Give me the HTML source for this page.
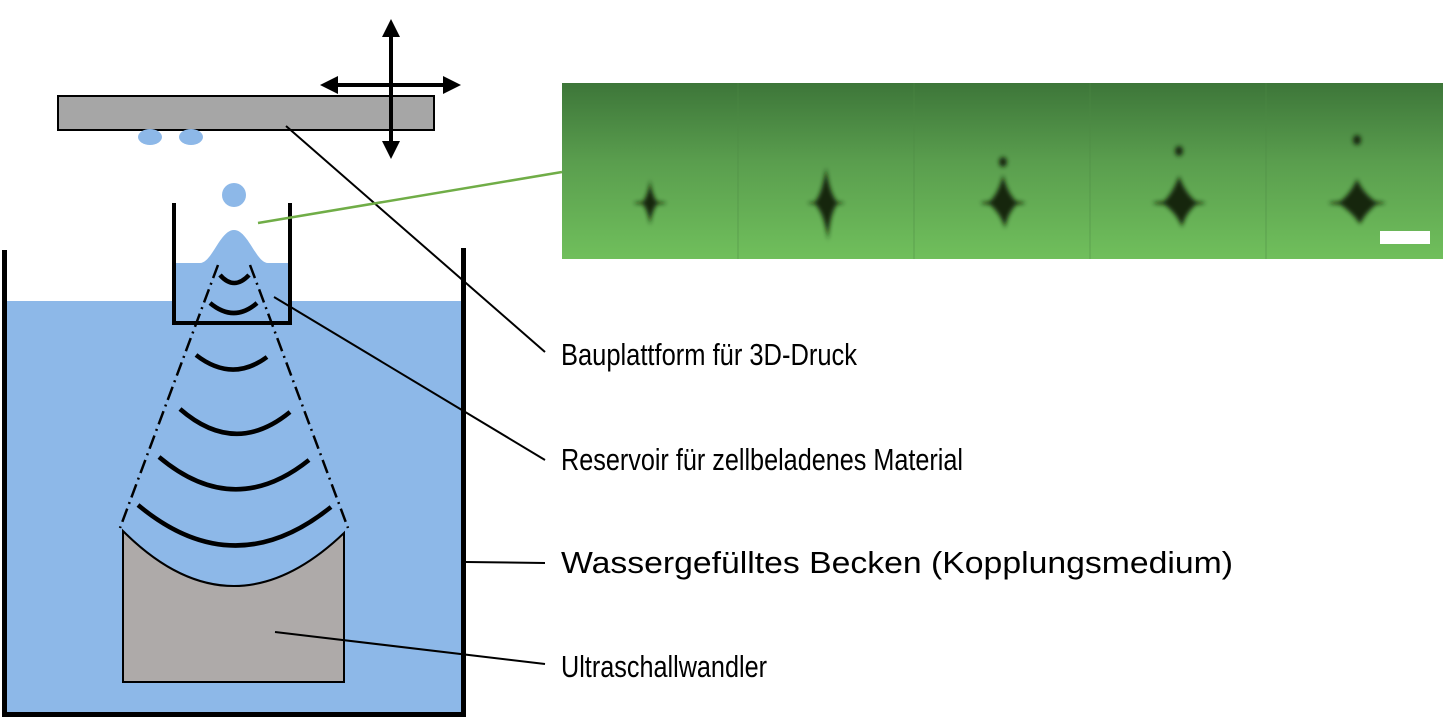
<!DOCTYPE html>
<html><head><meta charset="utf-8"><style>html,body{margin:0;padding:0;background:#fff;}svg{display:block}</style></head>
<body>
<svg width="1443" height="721" viewBox="0 0 1443 721" xmlns="http://www.w3.org/2000/svg">
<defs>
<linearGradient id="g" x1="0" y1="0" x2="0" y2="1">
<stop offset="0" stop-color="#3d7639"/><stop offset="0.45" stop-color="#5a9e4e"/><stop offset="1" stop-color="#70bf5c"/>
</linearGradient>
<filter id="b"><feGaussianBlur stdDeviation="2"/></filter>
</defs>
<rect x="5" y="301" width="458" height="413" fill="#8db8e8"/>
<path d="M4.5 250 V714.5 H463.5 V248" fill="none" stroke="#000" stroke-width="5"/>
<path d="M175 263 H200 C212 263 220 230 234 230 C248 230 256 263 268 263 H288 V321 H175 Z" fill="#8db8e8"/>
<path d="M174 203 V323 H290 V203" fill="none" stroke="#000" stroke-width="4"/>
<path d="M123 531 Q232 640 344 533 V682 H123 Z" fill="#aeaaa9" stroke="#000" stroke-width="2"/>
<g stroke="#000" stroke-width="2.5" stroke-dasharray="14,5,2,5" fill="none">
<line x1="218" y1="265" x2="120" y2="528"/>
<line x1="250" y1="265" x2="348" y2="528"/>
</g>
<g stroke="#000" stroke-width="4.5" fill="none">
<path d="M220 275 Q234 291 249 275"/>
<path d="M210 303 Q234 323 257 303"/>
<path d="M196 355 Q232 383 267 357"/>
<path d="M180 409 Q235 457 290 412"/>
<path d="M159 457 Q234 520 309 460"/>
<path d="M138 505 Q234 585 331 507"/>
</g>
<rect x="58" y="96" width="376" height="34" fill="#a6a6a6" stroke="#000" stroke-width="2"/>
<ellipse cx="150" cy="137" rx="12" ry="8" fill="#8db8e8"/>
<ellipse cx="191" cy="137" rx="12" ry="8" fill="#8db8e8"/>
<circle cx="234" cy="195" r="12" fill="#8db8e8"/>
<g fill="#000">
<rect x="389" y="34" width="4" height="112"/>
<polygon points="391,19 382,37 400,37"/>
<polygon points="391,159 382,141 400,141"/>
<rect x="335" y="83" width="112" height="4"/>
<polygon points="320,85 338,76 338,94"/>
<polygon points="461,85 443,76 443,94"/>
</g>
<g stroke="#000" stroke-width="2">
<line x1="286" y1="126" x2="545" y2="352"/>
<line x1="274" y1="297" x2="545" y2="460"/>
<line x1="466" y1="562" x2="545" y2="563"/>
<line x1="275" y1="632" x2="545" y2="664"/>
</g>
<line x1="258" y1="223" x2="562" y2="172" stroke="#70ad47" stroke-width="2.5"/>
<rect x="562" y="83" width="881" height="176" fill="url(#g)"/>
<g stroke="#4d8a44" stroke-width="1" opacity="0.5">
<line x1="738" y1="83" x2="738" y2="259"/><line x1="914" y1="83" x2="914" y2="259"/>
<line x1="1090" y1="83" x2="1090" y2="259"/><line x1="1266" y1="83" x2="1266" y2="259"/>
</g>
<g fill="#14280f" filter="url(#b)">
<path d="M650 180 Q652 196 658 203 Q652 210 650 225 Q648 210 642 203 Q648 196 650 180Z"/>
<ellipse cx="650" cy="203" rx="16" ry="1.5"/>
<path d="M826 168 Q830 195 838 203 Q830 212 828 240 Q824 212 814 203 Q822 195 826 168Z"/>
<ellipse cx="826" cy="203" rx="18" ry="1.5"/>
<ellipse cx="1003" cy="162" rx="4" ry="5"/>
<path d="M1003 175 Q1008 195 1018 203 Q1008 212 1005 228 Q1000 212 988 203 Q998 195 1003 175Z"/>
<ellipse cx="1003" cy="203" rx="22" ry="2"/>
<ellipse cx="1179" cy="151" rx="4" ry="5"/>
<path d="M1179 176 Q1186 195 1198 203 Q1186 212 1182 227 Q1176 212 1162 203 Q1172 195 1179 176Z"/>
<ellipse cx="1179" cy="203" rx="26" ry="2"/>
<ellipse cx="1357" cy="140" rx="4" ry="5"/>
<path d="M1357 179 Q1364 195 1378 203 Q1366 212 1360 224 Q1352 212 1338 203 Q1350 195 1357 179Z"/>
<ellipse cx="1357" cy="203" rx="28" ry="2"/>
</g>
<rect x="1380" y="231" width="50" height="13" fill="#fff"/>
<g font-family="'Liberation Sans', sans-serif" font-size="31" fill="#000">
<text x="561" y="365" textLength="296" lengthAdjust="spacingAndGlyphs">Bauplattform für 3D-Druck</text>
<text x="561" y="470" textLength="402" lengthAdjust="spacingAndGlyphs">Reservoir für zellbeladenes Material</text>
<text x="561" y="573" textLength="672" lengthAdjust="spacingAndGlyphs">Wassergefülltes Becken (Kopplungsmedium)</text>
<text x="561" y="677" textLength="206" lengthAdjust="spacingAndGlyphs">Ultraschallwandler</text>
</g>
</svg>
</body></html>
